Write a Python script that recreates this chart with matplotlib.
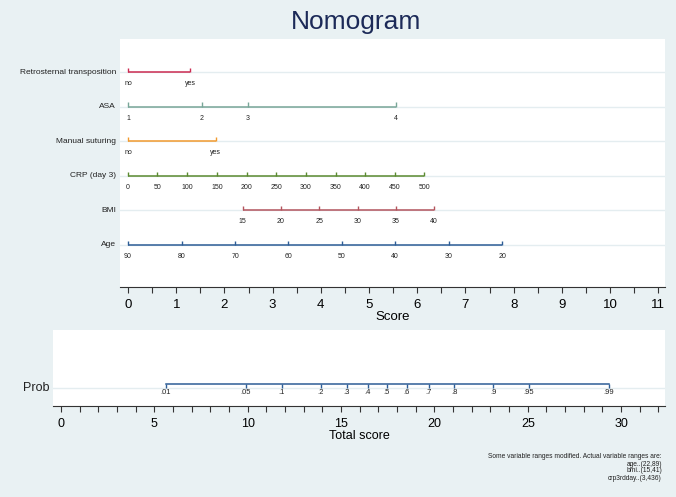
import numpy as np
import matplotlib
matplotlib.use("Agg")
import matplotlib.pyplot as plt
from matplotlib.ticker import MultipleLocator

plt.rcParams['font.family'] = ['Liberation Sans', 'DejaVu Sans']

# nomogram rows, bottom to top
row_names = ["Age", "BMI", "CRP (day 3)", "Manual suturing", "ASA", "Retrosternal transposition"]

age_labels = ["90", "80", "70", "60", "50", "40", "30", "20"]
age_pts = [0, 1.11, 2.22, 3.32, 4.43, 5.53, 6.65, 7.76]

bmi_labels = ["15", "20", "25", "30", "35", "40"]
bmi_pts = [2.38, 3.17, 3.97, 4.77, 5.56, 6.35]

crp_labels = ["0", "50", "100", "150", "200", "250", "300", "350", "400", "450", "500"]
crp_pts = [0, 0.61, 1.23, 1.85, 2.46, 3.07, 3.69, 4.31, 4.92, 5.53, 6.15]

manual_labels = ["no", "yes"]
manual_pts = [0, 1.82]

asa_labels = ["1", "2", "3", "4"]
asa_pts = [0, 1.53, 2.49, 5.56]

retro_labels = ["no", "yes"]
retro_pts = [0, 1.29]

prob_labels = [".01", ".05", ".1", ".2", ".3", ".4", ".5", ".6", ".7", ".8", ".9", ".95", ".99"]
prob_pts = [5.61, 9.89, 11.82, 13.91, 15.30, 16.43, 17.44, 18.52, 19.69, 21.05, 23.16, 25.07, 29.33]

note_lines = ["Some variable ranges modified. Actual variable ranges are:",
              "age..(22,89)", "bmi..(15,41)", "crp3rdday..(3,436)"]

rows = [(age_labels, age_pts, "#2d5d96"),
        (bmi_labels, bmi_pts, "#b3545d"),
        (crp_labels, crp_pts, "#5b8a30"),
        (manual_labels, manual_pts, "#f29a2e"),
        (asa_labels, asa_pts, "#78a698"),
        (retro_labels, retro_pts, "#cc2b52")]

bg = "#e9f1f3"
grid_c = "#e4edf0"

fig = plt.figure(figsize=(6.76, 4.97), dpi=100, facecolor=bg)

# ---- top panel: points
ax = fig.add_axes([120/676, 1-287/497, 545/676, 248/497])
ax.set_facecolor("white")
ax.set_xlim(-0.166, 11.14)
ax.set_ylim(-0.214, 6.954)
for s in ["top", "left", "right"]:
    ax.spines[s].set_visible(False)
ax.spines["bottom"].set_color("#333333")
ax.spines["bottom"].set_linewidth(0.8)
ax.set_yticks([])

tick_h = 0.12
lab_off = 0.33
for i, (labs, pts, col) in enumerate(rows):
    y = i + 1
    ax.axhline(y, color=grid_c, lw=1.0, zorder=0)
    ax.plot([pts[0], pts[-1]], [y, y], color=col, lw=1.1, solid_capstyle="butt")
    ax.vlines(pts, y, y + tick_h, color=col, lw=1.0)
    for p, l in zip(pts, labs):
        ax.text(p, y - lab_off, l, ha="center", va="center", fontsize=5, color="#222222")
    ax.text(-0.25, y, row_names[i], ha="right", va="center", fontsize=6, color="#222222",
            clip_on=False)

ax.xaxis.set_major_locator(MultipleLocator(1))
ax.xaxis.set_minor_locator(MultipleLocator(0.5))
ax.tick_params(axis="x", which="both", direction="out", length=4.3, width=0.8,
               color="#333333", labelsize=9.5, pad=4)
ax.set_xlabel("Score", fontsize=9.5, labelpad=0)

fig.text(356/676, 1-22/497, "Nomogram", ha="center", va="center", fontsize=19,
         color="#1c2a58")

# ---- bottom panel: total score -> probability
bx = fig.add_axes([53/676, 1-406/497, 612/676, 76/497])
bx.set_facecolor("white")
bx.set_xlim(-0.43, 32.35)
bx.set_ylim(-18, 58)
for s in ["top", "left", "right"]:
    bx.spines[s].set_visible(False)
bx.spines["bottom"].set_color("#333333")
bx.spines["bottom"].set_linewidth(0.8)
bx.set_yticks([])
bx.axhline(0, color=grid_c, lw=1.0, zorder=0)
bx.plot([prob_pts[0], prob_pts[-1]], [4, 4], color="#2d5d96", lw=1.1)
bx.vlines(prob_pts, 0, 4, color="#2d5d96", lw=1.0)
for p, l in zip(prob_pts, prob_labels):
    bx.text(p, -4.5, l, ha="center", va="center", fontsize=5.5, color="#222222")
bx.text(-0.6, 0, "Prob", ha="right", va="center", fontsize=9, color="#222222", clip_on=False)

bx.xaxis.set_major_locator(MultipleLocator(5))
bx.xaxis.set_minor_locator(MultipleLocator(1))
bx.tick_params(axis="x", which="both", direction="out", length=4.3, width=0.8,
               color="#333333", labelsize=9, pad=4)
bx.set_xlabel("Total score", fontsize=9, labelpad=0)

# note
for k, line in enumerate(note_lines):
    fig.text(662/676, 1-(457 + k*7)/497, line, ha="right", va="center", fontsize=4.8,
             color="#222222")

fig.savefig("out.png", dpi=100, facecolor=bg)
